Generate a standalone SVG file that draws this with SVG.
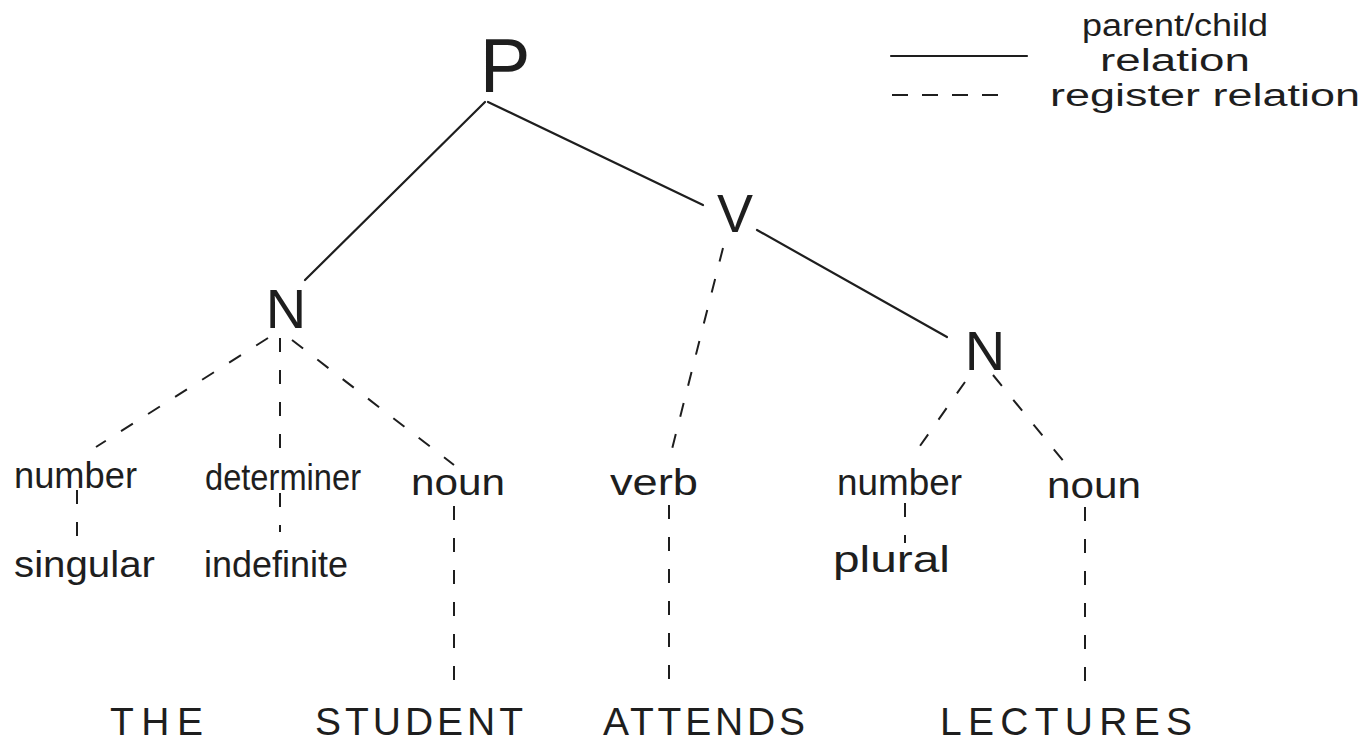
<svg xmlns="http://www.w3.org/2000/svg" width="1370" height="744" viewBox="0 0 1370 744">
<style>
  .bg{fill:#ffffff}
  .solid{stroke:#1e1e1e;stroke-width:2.2;fill:none;stroke-linecap:round}
  .dash{stroke:#1e1e1e;stroke-width:2;fill:none;stroke-dasharray:14 18}
  .big{font-family:"Liberation Sans","DejaVu Sans",sans-serif;fill:#1e1e1e;text-anchor:middle}
  .lab{font-family:"Liberation Sans","DejaVu Sans",sans-serif;font-size:36px;fill:#1e1e1e}
  .word{font-family:"Liberation Sans","DejaVu Sans",sans-serif;font-size:39px;fill:#1e1e1e}
  .leg{font-family:"Liberation Sans","DejaVu Sans",sans-serif;font-size:31px;fill:#1e1e1e}
</style>
<rect class="bg" x="0" y="0" width="1370" height="744"/>

<g id="connectors">
  <line class="solid" x1="485" y1="102" x2="305" y2="280"/>
  <line class="solid" x1="488" y1="102" x2="703" y2="205"/>
  <line class="solid" x1="757" y1="230" x2="947" y2="337"/>

  <line class="dash" x1="268" y1="338" x2="96" y2="447"/>
  <line class="dash" x1="280" y1="338" x2="280" y2="454"/>
  <line class="dash" x1="292" y1="340" x2="454" y2="465"/>
  <line class="dash" x1="77" y1="490" x2="77" y2="552"/>
  <line class="dash" x1="280" y1="493" x2="280" y2="532"/>
  <line class="dash" x1="454" y1="506" x2="454" y2="698"/>
  <line class="dash" x1="723" y1="248" x2="670" y2="457"/>
  <line class="dash" x1="669" y1="505" x2="669" y2="697"/>
  <line class="dash" x1="965" y1="382" x2="915" y2="453"/>
  <line class="dash" x1="993" y1="375" x2="1065" y2="463"/>
  <line class="dash" x1="905" y1="503" x2="905" y2="543"/>
  <line class="dash" x1="1085" y1="507" x2="1085" y2="692"/>
</g>

<g id="node-P"><text class="big" x="505" y="92" font-size="76">P</text></g>
<g id="node-V"><text class="big" x="735" y="232" font-size="54">V</text></g>
<g id="node-N1"><text class="big" x="286" y="328" font-size="56">N</text></g>
<g id="node-N2"><text class="big" x="985" y="370" font-size="56">N</text></g>

<g id="node-number1"><text class="lab" x="14" y="488" textLength="123" lengthAdjust="spacingAndGlyphs">number</text></g>
<g id="node-determiner"><text class="lab" x="205" y="490" textLength="156" lengthAdjust="spacingAndGlyphs">determiner</text></g>
<g id="node-noun1"><text class="lab" x="411" y="495" textLength="94" lengthAdjust="spacingAndGlyphs">noun</text></g>
<g id="node-verb"><text class="lab" x="610" y="495" textLength="88" lengthAdjust="spacingAndGlyphs">verb</text></g>
<g id="node-number2"><text class="lab" x="837" y="495" textLength="125" lengthAdjust="spacingAndGlyphs">number</text></g>
<g id="node-noun2"><text class="lab" x="1047" y="498" textLength="94" lengthAdjust="spacingAndGlyphs">noun</text></g>

<g id="node-singular"><text class="lab" x="14" y="577" textLength="141" lengthAdjust="spacingAndGlyphs">singular</text></g>
<g id="node-indefinite"><text class="lab" x="204" y="577" textLength="144" lengthAdjust="spacingAndGlyphs">indefinite</text></g>
<g id="node-plural"><text class="lab" x="833" y="572" textLength="117" lengthAdjust="spacingAndGlyphs">plural</text></g>

<g id="node-THE"><text class="word" x="110" y="735" textLength="93" lengthAdjust="spacing">THE</text></g>
<g id="node-STUDENT"><text class="word" x="315" y="735" textLength="208" lengthAdjust="spacing">STUDENT</text></g>
<g id="node-ATTENDS"><text class="word" x="603" y="735" textLength="202" lengthAdjust="spacing">ATTENDS</text></g>
<g id="node-LECTURES"><text class="word" x="940" y="735" textLength="252" lengthAdjust="spacing">LECTURES</text></g>

<g id="legend">
  <line class="solid" x1="891" y1="56" x2="1027" y2="56"/>
  <line class="dash" x1="892" y1="95" x2="1007" y2="95" style="stroke-dasharray:16 14"/>
  <text class="leg" x="1082" y="36" textLength="186" lengthAdjust="spacingAndGlyphs">parent/child</text>
  <text class="leg" x="1100" y="71" textLength="150" lengthAdjust="spacingAndGlyphs">relation</text>
  <text class="leg" x="1050" y="106" textLength="310" lengthAdjust="spacingAndGlyphs">register relation</text>
</g>
</svg>
